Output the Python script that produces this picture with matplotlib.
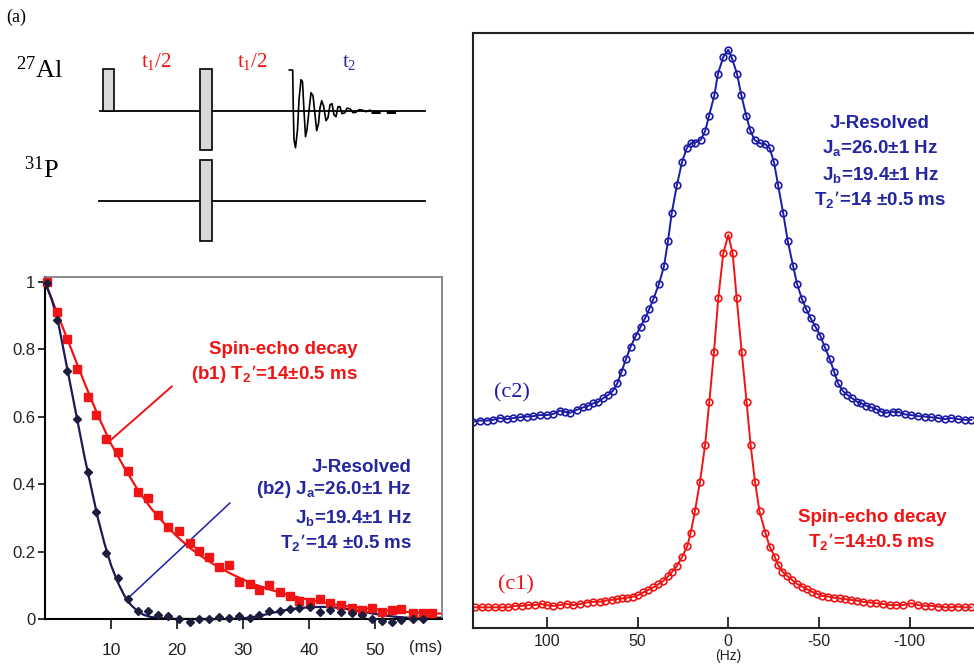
import numpy as np
import matplotlib
matplotlib.use('Agg')
import matplotlib.pyplot as plt
from matplotlib.patches import Rectangle

plt.rcParams['font.family'] = ['Liberation Sans', 'DejaVu Sans']
plt.rcParams['mathtext.default'] = 'regular'

# ---- (b) time-domain decays ----
b1_t = [0.25, 1.87, 3.4, 4.9, 6.5, 7.8, 9.3, 11.0, 12.5, 14.1, 15.6, 17.1, 18.7, 20.3,
        21.9, 23.4, 24.9, 26.4, 27.9, 29.4, 31.0, 32.4, 33.9, 35.6, 37.1, 38.5, 40.2,
        41.7, 43.2, 44.8, 46.5, 48.0, 49.5, 51.0, 52.5, 54.0, 55.7, 57.2, 58.7]
b1_val = [1.0, 0.911, 0.831, 0.743, 0.659, 0.604, 0.535, 0.497, 0.438, 0.376, 0.358,
          0.310, 0.272, 0.260, 0.226, 0.201, 0.183, 0.154, 0.159, 0.109, 0.105, 0.085,
          0.100, 0.079, 0.069, 0.054, 0.049, 0.059, 0.047, 0.043, 0.033, 0.026, 0.033,
          0.020, 0.028, 0.030, 0.018, 0.018, 0.018]
b1_fit_t = [0, 2, 4, 6, 8, 10, 12, 14, 16, 18, 20, 22, 24, 26, 28, 30, 32, 34, 36, 38,
            40, 42, 44, 46, 48, 50, 52, 54, 56, 58, 60]
b1_fit = [1.0, 0.90, 0.80, 0.70, 0.605, 0.52, 0.45, 0.385, 0.33, 0.285, 0.245, 0.21,
          0.182, 0.157, 0.136, 0.117, 0.101, 0.088, 0.076, 0.066, 0.057, 0.050, 0.043,
          0.037, 0.033, 0.029, 0.025, 0.022, 0.020, 0.018, 0.016]

b2_t = b1_t[:38]
b2_val = [0.997, 0.888, 0.737, 0.594, 0.435, 0.318, 0.196, 0.122, 0.059, 0.023, 0.023,
          0.013, 0.010, 0.0, -0.010, 0.0, 0.0, 0.005, 0.003, 0.010, 0.003, 0.013, 0.025,
          0.025, 0.030, 0.033, 0.035, 0.020, 0.028, 0.020, 0.018, 0.013, 0.0, -0.005,
          -0.010, -0.002, 0.0, 0.0]
b2_fit_t = [0, 1, 2, 3, 4, 5, 6, 7, 8, 9, 10, 11, 12, 13, 14, 15, 16, 18, 20, 24, 28,
            30, 32, 34, 36, 38, 40, 42, 44, 46, 48, 50, 52, 54, 56, 58, 60]
b2_fit = [1.0, 0.95, 0.88, 0.78, 0.68, 0.58, 0.48, 0.39, 0.30, 0.225, 0.16, 0.11, 0.07,
          0.042, 0.024, 0.012, 0.006, 0.002, 0.0, 0.0, 0.0, 0.002, 0.007, 0.016, 0.025,
          0.031, 0.035, 0.036, 0.034, 0.029, 0.022, 0.015, 0.009, 0.005, 0.003, 0.003,
          0.004]

# ---- (c) spectra ----
c1_hz = [139.6, 136.0, 132.3, 128.6, 124.9, 121.3, 117.6, 113.9, 110.3, 106.6, 102.9,
         100.1, 96.5, 92.8, 89.1, 85.4, 81.8, 78.1, 74.4, 70.7, 68.0, 64.3, 61.5, 58.8,
         56.0, 52.4, 49.6, 46.9, 44.1, 41.3, 38.6, 35.8, 33.1, 30.9, 28.4, 25.5, 22.6,
         20.7, 18.4, 15.6, 12.8, 10.5, 7.9, 5.5, 2.76, 0.0,
         -2.4, -4.6, -7.4, -10.1, -12.3, -14.7, -17.2, -20.4, -22.8, -25.6, -27.4, -29.8,
         -32.5, -35.1, -37.9, -40.6, -43.4, -46.1, -49.1, -51.8, -55.0, -58.3, -61.4,
         -64.5, -67.8, -71.1, -74.3, -78.0, -81.6, -85.3, -89.0, -92.6, -96.3, -100.9,
         -104.6, -108.3, -111.9, -115.6, -119.3, -122.9, -126.6, -130.3, -134.0]
c1_val = [-0.001, -0.001, -0.001, -0.001, -0.001, -0.001, 0.003, 0.003, 0.005, 0.005,
          0.008, 0.005, 0.003, 0.005, 0.008, 0.005, 0.008, 0.012, 0.014, 0.014, 0.017,
          0.019, 0.021, 0.023, 0.025, 0.028, 0.032, 0.039, 0.046, 0.053, 0.061, 0.070,
          0.083, 0.095, 0.110, 0.134, 0.164, 0.200, 0.257, 0.337, 0.435, 0.550, 0.685,
          0.831, 0.951, 1.000,
          0.951, 0.831, 0.685, 0.550, 0.435, 0.337, 0.257, 0.200, 0.162, 0.135, 0.113,
          0.095, 0.083, 0.073, 0.062, 0.055, 0.048, 0.041, 0.035, 0.030, 0.028, 0.025,
          0.023, 0.021, 0.019, 0.017, 0.014, 0.012, 0.010, 0.008, 0.005, 0.005, 0.005,
          0.010, 0.005, 0.003, 0.003, 0.001, -0.001, -0.001, 0.001, -0.001, -0.001]

c2_hz = [140.6, 137.0, 133.2, 129.6, 125.9, 122.0, 118.5, 114.8, 111.0, 107.5, 103.8,
         100.0, 96.5, 92.8, 90.0, 87.3, 83.6, 80.0, 77.2, 74.4, 71.7, 68.9, 66.1, 63.7,
         61.2, 58.8, 56.4, 53.8, 51.0, 48.3, 45.9, 43.6, 41.3, 38.2, 35.4, 33.2, 31.2,
         28.3, 25.5, 22.9, 20.6, 18.2, 15.2, 12.7, 10.6, 7.7, 5.7, 2.8, 0.0,
         -2.0, -4.8, -7.2, -9.9, -12.1, -14.5, -17.3, -20.0, -22.8, -25.2, -27.4, -30.2,
         -32.7, -35.7, -37.9, -40.6, -43.0, -45.4, -48.0, -50.7, -53.1, -55.9, -58.3,
         -60.5, -63.2, -65.6, -68.2, -71.0, -73.3, -76.1, -78.8, -81.6, -84.3, -87.1,
         -90.8, -93.6, -97.2, -100.9, -104.6, -108.3, -111.9, -115.6, -119.3, -122.9,
         -126.6, -130.3, -134.0]
c2_val = [-0.010, -0.007, -0.007, -0.005, 0.000, -0.003, 0.000, 0.002, 0.004, 0.005,
          0.008, 0.008, 0.011, 0.020, 0.017, 0.014, 0.022, 0.029, 0.033, 0.040, 0.044,
          0.054, 0.063, 0.073, 0.094, 0.126, 0.160, 0.194, 0.223, 0.248, 0.271, 0.295,
          0.323, 0.364, 0.413, 0.482, 0.556, 0.633, 0.695, 0.733, 0.746, 0.748, 0.755,
          0.780, 0.821, 0.876, 0.935, 0.980, 1.000,
          0.977, 0.935, 0.876, 0.821, 0.781, 0.755, 0.746, 0.745, 0.733, 0.694, 0.633,
          0.558, 0.482, 0.413, 0.364, 0.323, 0.295, 0.271, 0.248, 0.223, 0.194, 0.160,
          0.126, 0.094, 0.073, 0.063, 0.054, 0.044, 0.040, 0.033, 0.029, 0.024, 0.017,
          0.014, 0.017, 0.017, 0.010, 0.008, 0.005, 0.004, 0.002, 0.000, -0.003, 0.000,
          -0.003, -0.005, -0.005]

# ---- (a) FID trace (pixel units of the schematic, amplitude up) ----
fid_x = [289.3, 292.7, 293.3, 294.0, 295.5, 297.5, 299.0, 301.0, 302.5, 304.0, 305.5,
         307.0, 309.0, 311.0, 313.0, 315.0, 316.7, 318.5, 320.0, 321.7, 323.5, 326.0,
         328.0, 330.0, 332.0, 334.0, 336.0, 338.0, 340.0, 342.0, 345.0, 347.0, 350.0,
         353.0, 356.0, 359.0, 362.0, 366.0, 370.0]
fid_amp = [40.7, 40.7, 0, -29, -37, -19, 11, 31, 29, 0, -26, -19, 0, 18, 15, -4, -20,
           -13, 3, 10, 5, -10, -7, 6, 7, -4, -6, 4, 4, -3, -2, 2.5, 2, -2, -1.5, 1, 0.7,
           -1, 0.5]

RED = '#f01414'
BLUE = '#1c1ca8'
TBLUE = '#2326a0'
NAVY = '#1a1a5a'
SERIF = ['Liberation Serif', 'DejaVu Serif']

fig = plt.figure(figsize=(9.74, 6.64), dpi=100)

# ---------- panel (a): pulse sequence, drawn in pixel coords ----------
axa = fig.add_axes([0, 0, 1, 1])
axa.set_xlim(0, 974)
axa.set_ylim(664, 0)
axa.axis('off')
al_y, p_y = 110.7, 201
axa.plot([100, 425], [al_y, al_y], color='black', lw=1.3)
axa.plot([99, 425], [p_y, p_y], color='black', lw=1.3)
for (x0, y0, w, h) in [(102.7, 69, 11.6, 41.7), (200, 69, 12, 81), (200, 160, 12, 81)]:
    axa.add_patch(Rectangle((x0, y0), w, h, facecolor='#d9d9d9', edgecolor='black', lw=1.2, zorder=3))
axa.plot(fid_x, [al_y - a for a in fid_amp], color='black', lw=1.2)
axa.plot([371, 398], [al_y + 0.8, al_y + 0.8], color='black', lw=2.2, ls=(0, (3, 2)))
axa.text(6, 17, '(a)', family=SERIF, fontsize=13, va='center', ha='left')
axa.text(16, 70, '$^{27}$Al', family=SERIF, fontsize=19, va='center', ha='left')
axa.text(24, 170, '$^{31}$P', family=SERIF, fontsize=19, va='center', ha='left')
axa.text(156, 62, 't$_1$/2', family=SERIF, fontsize=15, color=RED, ha='center', va='center')
axa.text(252, 62, 't$_1$/2', family=SERIF, fontsize=15, color=RED, ha='center', va='center')
axa.text(349, 62, 't$_2$', family=SERIF, fontsize=15, color='#2a2aa0', ha='center', va='center')

# ---------- panel (b) ----------
axb = fig.add_axes([45 / 974, 1 - 619 / 664, 397 / 974, 342 / 664])
axb.plot(b1_fit_t, b1_fit, color=RED, lw=1.6, zorder=2)
axb.plot(b1_t, b1_val, ls='none', marker='s', ms=6.3, color=RED, zorder=3, clip_on=False)
axb.plot(b2_fit_t, b2_fit, color=NAVY, lw=1.6, zorder=2, clip_on=False)
axb.plot(b2_t, b2_val, ls='none', marker='D', ms=4.5, color='#1c1c3c', zorder=3, clip_on=False)
axb.plot([9.9, 19.2], [0.53, 0.69], color=RED, lw=1.4)
axb.plot([12.6, 28.0], [0.062, 0.344], color=BLUE, lw=1.1)
axb.set_xlim(0, 60.15)
axb.set_ylim(0, 1.015)
axb.set_xticks([10, 20, 30, 40, 50])
axb.set_yticks([0, 0.2, 0.4, 0.6, 0.8, 1.0])
axb.set_yticklabels(['0', '0.2', '0.4', '0.6', '0.8', '1'])
axb.tick_params(axis='x', direction='out', length=7, width=1.3, pad=10, labelsize=12.5, colors='#222222')
axb.tick_params(axis='y', direction='out', length=5, width=1.3, pad=2, labelsize=12, colors='#222222')
for s in ['left', 'bottom']:
    axb.spines[s].set_linewidth(1.5)
    axb.spines[s].set_color('black')
for s in ['top', 'right']:
    axb.spines[s].set_linewidth(1.3)
    axb.spines[s].set_color('#808080')
axb.text(57.7, -0.085, '(ms)', fontsize=12, color='#222222', ha='center', va='center', clip_on=False)
bold = dict(fontweight='bold', fontsize=13.5)
axb.text(47.3, 0.801, 'Spin-echo decay', color=RED, ha='right', va='center', **bold)
axb.text(47.3, 0.727, '(b1) T$_2$’=14±0.5 ms', color=RED, ha='right', va='center', **bold)
axb.text(55.6, 0.451, 'J-Resolved', color=TBLUE, ha='right', va='center', **bold)
axb.text(55.6, 0.383, '(b2) J$_a$=26.0±1 Hz', color=TBLUE, ha='right', va='center', **bold)
axb.text(55.6, 0.300, 'J$_b$=19.4±1 Hz', color=TBLUE, ha='right', va='center', **bold)
axb.text(55.6, 0.226, 'T$_2$’=14 ±0.5 ms', color=TBLUE, ha='right', va='center', **bold)

# ---------- panel (c) ----------
c2_offset = 0.508
axc = fig.add_axes([473 / 974, 1 - 628 / 664, 510.6 / 974, 595 / 664])
axc.plot(c1_hz, c1_val, color=RED, lw=1.4, marker='o', ms=4.8, mfc='none', mew=1.2)
axc.plot(c2_hz, [c2_offset + 0.99 * v for v in c2_val], color=BLUE, lw=1.4,
         marker='o', ms=4.8, mfc='none', mew=1.2)
axc.set_xlim(140.7, -140.7)
axc.set_ylim(-0.0565, 1.543)
axc.set_xticks([100, 50, 0, -50, -100])
axc.set_xticklabels(['100', '50', '0', '-50', '-100'])
axc.set_yticks([])
axc.tick_params(axis='x', direction='in', length=8, width=1.3, pad=4, labelsize=11.5, colors='#222222')
axc.spines['right'].set_visible(False)
for s in ['left', 'bottom', 'top']:
    axc.spines[s].set_linewidth(1.5)
    axc.spines[s].set_color('#222222')
axc.set_xlabel('(Hz)', fontsize=10, labelpad=0, color='#222222')
axc.text(880, 123, 'J-Resolved', transform=axa.transData, color=TBLUE, ha='center', va='center', **bold)
axc.text(880, 148, 'J$_a$=26.0±1 Hz', transform=axa.transData, color=TBLUE, ha='center', va='center', **bold)
axc.text(880, 175, 'J$_b$=19.4±1 Hz', transform=axa.transData, color=TBLUE, ha='center', va='center', **bold)
axc.text(880, 200, 'T$_2$’=14 ±0.5 ms', transform=axa.transData, color=TBLUE, ha='center', va='center', **bold)
axc.text(872, 517, 'Spin-echo decay', transform=axa.transData, color=RED, ha='center', va='center', **bold)
axc.text(872, 542, 'T$_2$’=14±0.5 ms', transform=axa.transData, color=RED, ha='center', va='center', **bold)
axc.text(512, 393, '(c2)', transform=axa.transData, family=SERIF, fontsize=16, color=BLUE, ha='center', va='center')
axc.text(516, 585, '(c1)', transform=axa.transData, family=SERIF, fontsize=16, color=RED, ha='center', va='center')

fig.savefig('out.png', dpi=100)
